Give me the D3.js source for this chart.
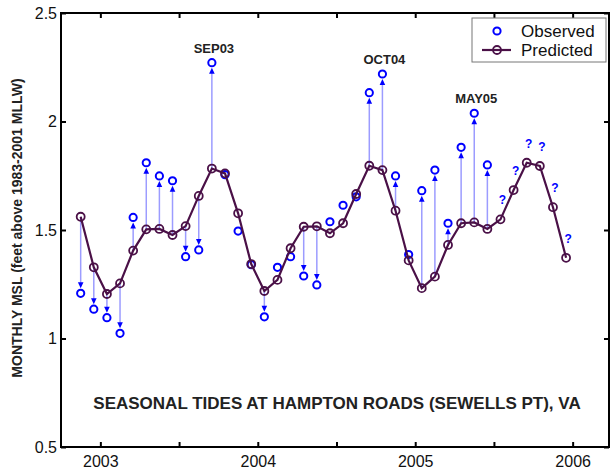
<!DOCTYPE html>
<html>
<head>
<meta charset="utf-8">
<script src="https://cdn.jsdelivr.net/npm/d3@7"></script>
<style>
    body { margin: 0; background: #fff; }
    svg { display: block; }
</style>
</head>
<body>
<div class="chart"></div>
<script>
// monthly values, Nov 2002 .. Dec 2005
const months = ['NOV02', 'DEC02', 'JAN03', 'FEB03', 'MAR03', 'APR03', 'MAY03', 'JUN03', 'JUL03', 'AUG03', 'SEP03', 'OCT03',
    'NOV03', 'DEC03', 'JAN04', 'FEB04', 'MAR04', 'APR04', 'MAY04', 'JUN04', 'JUL04', 'AUG04', 'SEP04', 'OCT04',
    'NOV04', 'DEC04', 'JAN05', 'FEB05', 'MAR05', 'APR05', 'MAY05', 'JUN05', 'JUL05', 'AUG05', 'SEP05', 'OCT05',
    'NOV05', 'DEC05'];
const predicted = [1.561, 1.328, 1.205, 1.254, 1.405, 1.503, 1.505, 1.477, 1.518, 1.657, 1.783, 1.761,
    1.577, 1.343, 1.219, 1.270, 1.416, 1.515, 1.517, 1.485, 1.531, 1.666, 1.796, 1.776,
    1.589, 1.360, 1.232, 1.285, 1.431, 1.531, 1.535, 1.505, 1.549, 1.684, 1.810, 1.795,
    1.605, 1.372];
const observed = [1.208, 1.135, 1.096, 1.024, 1.558, 1.810, 1.749, 1.727, 1.377, 1.408, 2.271, 1.755,
    1.495, 1.340, 1.100, 1.328, 1.377, 1.288, 1.247, 1.538, 1.614, 1.653, 2.133, 2.219,
    1.749, 1.387, 1.681, 1.776, 1.531, 1.881, 2.038, 1.800];
const highlights = ['SEP03', 'OCT04', 'MAY05'];
const yearTicks = [2003, 2004, 2005, 2006];
const halfTicks = [2003, 2003.5, 2004, 2004.5, 2005, 2005.5, 2006];
const yTicks = [0.5, 1, 1.5, 2, 2.5];

const fontFamily = '"Liberation Sans", Arial, Helvetica, sans-serif';
const width = 610, height = 472;
const obsColor = '#0000ff', predColor = '#4a1047', stemColor = '#9c9cff';

function monthTime(i) {
    return 2002 + (10 + i + 0.5) / 12;
}

let svg = d3.select('.chart')
    .append('svg')
    .attr('width', width)
    .attr('height', height)
    .attr('font-family', fontFamily);

let x = d3.scaleLinear().domain([2002.75, 2006.25]).range([61, 612]);
let y = d3.scaleLinear().domain([0.5, 2.5]).range([447, 13]);

let predData = predicted.map((v, i) => ({ t: monthTime(i), v: v, m: months[i] }));
let obsData = observed.map((v, i) => ({ t: monthTime(i), v: v, p: predicted[i], m: months[i] }));

// axes box with inward ticks
const tickLen = 5;
let axes = svg.append('g');
axes.append('g')
    .attr('transform', `translate(0, ${y(0.5)})`)
    .call(d3.axisBottom(x).tickValues(halfTicks).tickSizeInner(-tickLen).tickSizeOuter(0)
        .tickFormat(d => yearTicks.includes(d) ? d3.format('d')(d) : ''))
    .call(g => g.selectAll('text').attr('dy', '0.71em').attr('y', 9));
axes.append('g')
    .attr('transform', `translate(0, ${y(2.5)})`)
    .call(d3.axisTop(x).tickValues(halfTicks).tickSizeInner(-tickLen).tickSizeOuter(0).tickFormat(''));
axes.append('g')
    .attr('transform', `translate(${x(2002.75)}, 0)`)
    .call(d3.axisLeft(y).tickValues(yTicks).tickSizeInner(-tickLen).tickSizeOuter(0).tickFormat(d3.format('')))
    .call(g => g.selectAll('text').attr('x', -4));
axes.append('g')
    .attr('transform', `translate(${x(2006.25) - 3}, 0)`)
    .call(d3.axisRight(y).tickValues(yTicks).tickSizeInner(-tickLen).tickSizeOuter(0).tickFormat(''));

axes.selectAll('.domain').attr('stroke', '#000').attr('stroke-width', 2);
axes.selectAll('.tick line').attr('stroke', '#000').attr('stroke-width', 2);
axes.selectAll('.tick text')
    .attr('font-family', fontFamily)
    .attr('font-size', 16)
    .attr('fill', '#111');
axes.selectAll('.domain').remove();

svg.append('rect')
    .attr('x', x(2002.75))
    .attr('y', y(2.5))
    .attr('width', x(2006.25) - 3 - x(2002.75))
    .attr('height', y(0.5) - y(2.5))
    .attr('fill', 'none')
    .attr('stroke', '#000')
    .attr('stroke-width', 2);

// stems with arrow heads pointing to the observed value
let stems = obsData.filter(d => Math.abs(d.v - d.p) > 0.09);
let plot = svg.append('g');
plot.selectAll('line.stem')
    .data(stems)
    .join('line')
    .attr('class', 'stem')
    .attr('x1', d => x(d.t))
    .attr('x2', d => x(d.t))
    .attr('y1', d => y(d.p))
    .attr('y2', d => y(d.v) + (d.v > d.p ? 9 : -9))
    .attr('stroke', stemColor)
    .attr('stroke-width', 1.5);

plot.selectAll('path.head')
    .data(stems)
    .join('path')
    .attr('class', 'head')
    .attr('d', d => {
        let dir = d.v > d.p ? 1 : -1;
        let cx = x(d.t), tip = y(d.v) + dir * 5, base = y(d.v) + dir * 11;
        return `M${cx},${tip}L${cx - 2.8},${base}L${cx + 2.8},${base}Z`;
    })
    .attr('fill', obsColor);

// observed markers
plot.selectAll('circle.obs')
    .data(obsData)
    .join('circle')
    .attr('class', 'obs')
    .attr('cx', d => x(d.t))
    .attr('cy', d => y(d.v))
    .attr('r', 3.6)
    .attr('fill', 'none')
    .attr('stroke', obsColor)
    .attr('stroke-width', 2);

// predicted line
let line = d3.line().x(d => x(d.t)).y(d => y(d.v));
plot.append('path')
    .datum(predData)
    .attr('d', line)
    .attr('fill', 'none')
    .attr('stroke', predColor)
    .attr('stroke-width', 2.2);

plot.selectAll('circle.pred')
    .data(predData)
    .join('circle')
    .attr('class', 'pred')
    .attr('cx', d => x(d.t))
    .attr('cy', d => y(d.v))
    .attr('r', 4)
    .attr('fill', 'none')
    .attr('stroke', predColor)
    .attr('stroke-width', 1.8);

// question marks for months without observations
plot.selectAll('text.q')
    .data(predData.slice(observed.length))
    .join('text')
    .attr('class', 'q')
    .attr('x', d => x(d.t) + 2)
    .attr('y', d => y(d.v) - 15)
    .attr('text-anchor', 'middle')
    .attr('font-size', 12)
    .attr('font-weight', 'bold')
    .attr('fill', obsColor)
    .text('?');

// month labels on the big anomalies
plot.selectAll('text.hl')
    .data(obsData.filter(d => highlights.includes(d.m)))
    .join('text')
    .attr('class', 'hl')
    .attr('x', d => x(d.t) + 2)
    .attr('y', d => y(d.v) - 10)
    .attr('text-anchor', 'middle')
    .attr('font-size', 13)
    .attr('font-weight', 'bold')
    .attr('fill', '#222')
    .text(d => d.m);

// titles
svg.append('text')
    .attr('x', 337)
    .attr('y', 409)
    .attr('text-anchor', 'middle')
    .attr('font-size', 17)
    .attr('font-weight', 'bold')
    .attr('fill', '#222')
    .text('SEASONAL TIDES AT HAMPTON ROADS (SEWELLS PT), VA');

svg.append('text')
    .attr('transform', 'translate(22, 228) rotate(-90)')
    .attr('text-anchor', 'middle')
    .attr('font-size', 14)
    .attr('font-weight', 'bold')
    .attr('fill', '#222')
    .text('MONTHLY MSL (feet above 1983-2001 MLLW)');

// legend
let legend = svg.append('g');
legend.append('rect')
    .attr('x', 472)
    .attr('y', 18)
    .attr('width', 134)
    .attr('height', 44)
    .attr('fill', '#fff')
    .attr('stroke', '#777')
    .attr('stroke-width', 1);
legend.append('circle')
    .attr('cx', 497).attr('cy', 31).attr('r', 3.6)
    .attr('fill', 'none').attr('stroke', obsColor).attr('stroke-width', 2);
legend.append('line')
    .attr('x1', 482).attr('x2', 511).attr('y1', 50).attr('y2', 50)
    .attr('stroke', predColor).attr('stroke-width', 2.2);
legend.append('circle')
    .attr('cx', 497).attr('cy', 50).attr('r', 4)
    .attr('fill', 'none').attr('stroke', predColor).attr('stroke-width', 1.8);
legend.selectAll('text')
    .data(['Observed', 'Predicted'])
    .join('text')
    .attr('x', 521)
    .attr('y', (d, i) => 31 + i * 19)
    .attr('dy', '0.35em')
    .attr('font-size', 17)
    .attr('fill', '#111')
    .text(d => d);
</script>
</body>
</html>
